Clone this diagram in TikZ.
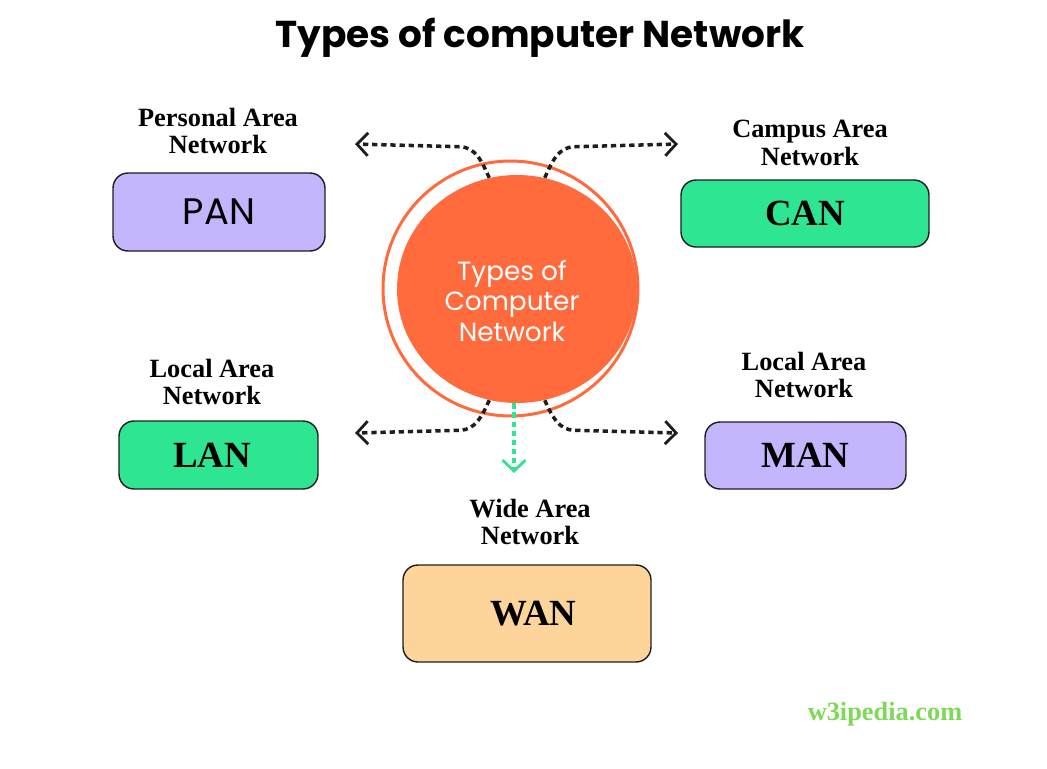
\documentclass[tikz,border=0pt]{standalone}
\usepackage{fontspec}
\setmainfont{Liberation Serif}
\newfontfamily\popfont{Poppins}
\usetikzlibrary{arrows.meta,shapes.geometric}
\definecolor{lavender}{HTML}{C4B5FD}
\definecolor{mint}{HTML}{2EE592}
\definecolor{peach}{HTML}{FDD59A}
\definecolor{coral}{HTML}{FF6B3D}
\definecolor{leaf}{HTML}{7ED957}
\definecolor{ink}{HTML}{1E1E1E}
\begin{document}
\begin{tikzpicture}[x=0.02cm, y=-0.02cm,
	every node/.style={text centered},
	netbox/.style={rectangle, draw=ink, line width=0.8pt, rounded corners=0.3cm, inner sep=0pt},
	lbl/.style={font=\fontsize{15}{15.5}\selectfont\bfseries, align=center, inner sep=0pt},
	abbr/.style={font=\fontsize{21}{21}\selectfont\bfseries},
	link/.style={ink, line width=2pt, dash pattern=on 3pt off 2.2pt,
		-{Straight Barb[length=2.2mm, width=4.6mm, line width=1.6pt]}}
]
	\useasboundingbox (0,0) rectangle (1047,768);

	\node[font=\popfont\fontsize{21.3}{22}\selectfont\bfseries] (title) at (540,38) {Types of computer Network};

	\node[lbl] (panlbl) at (218,131) {Personal Area\\Network};
	\node[netbox, fill=lavender, minimum width=4.24cm, minimum height=1.56cm,
		font=\popfont\fontsize{21}{21}\selectfont] (pan) at (219,212) {PAN};

	\node[lbl] (canlbl) at (810,143) {Campus Area\\Network};
	\node[netbox, fill=mint, minimum width=4.96cm, minimum height=1.34cm, abbr] (can) at (805,213.5) {CAN};

	\node[lbl] (lanlbl) at (212,382) {Local Area\\Network};
	\node[netbox, fill=mint, minimum width=3.98cm, minimum height=1.36cm, abbr] (lan) at (218.5,455) {\hspace*{-0.25cm}LAN};

	\node[lbl] (manlbl) at (804,375) {Local Area\\Network};
	\node[netbox, fill=lavender, minimum width=4.02cm, minimum height=1.34cm, abbr] (man) at (805.5,455.5) {MAN};

	\node[lbl] (wanlbl) at (530,522) {Wide Area\\Network};
	\node[netbox, fill=peach, minimum width=4.96cm, minimum height=1.94cm, abbr] (wan) at (527,613.5) {\hspace*{0.25cm}WAN};

	\node[circle, draw=coral, line width=1.7pt, minimum size=5.1cm] (ring) at (510.5,288.5) {};
	\node[ellipse, fill=coral, minimum width=4.8cm, minimum height=4.56cm, inner sep=0pt] (core) at (517,289) {};
	\node[white, align=center, font=\popfont\fontsize{15}{17.6}\selectfont] (topic) at (512,301)
		{Types of\\Computer\\Network};

	\coordinate (pantip) at (355,144);
	\coordinate (cantip) at (678,144);
	\coordinate (lantip) at (355,433);
	\coordinate (mantip) at (678,433);
	\coordinate (wantip) at (514,473);

	\draw[link] (core.104) to[out=115, in=0] +(-30,-31) -- (pantip);
	\draw[link] (core.76) to[out=65, in=180] +(30,-31) -- (cantip);
	\draw[link] (core.-104) to[out=-115, in=0] +(-30,30) -- (lantip);
	\draw[link] (core.-76) to[out=-65, in=180] +(30,30) -- (mantip);
	\draw[link, color=mint] (wantip |- core.south) -- (wantip);

	\node[leaf, font=\fontsize{15}{15}\selectfont\bfseries] (site) at (885,714) {w3ipedia.com};
\end{tikzpicture}
\end{document}
